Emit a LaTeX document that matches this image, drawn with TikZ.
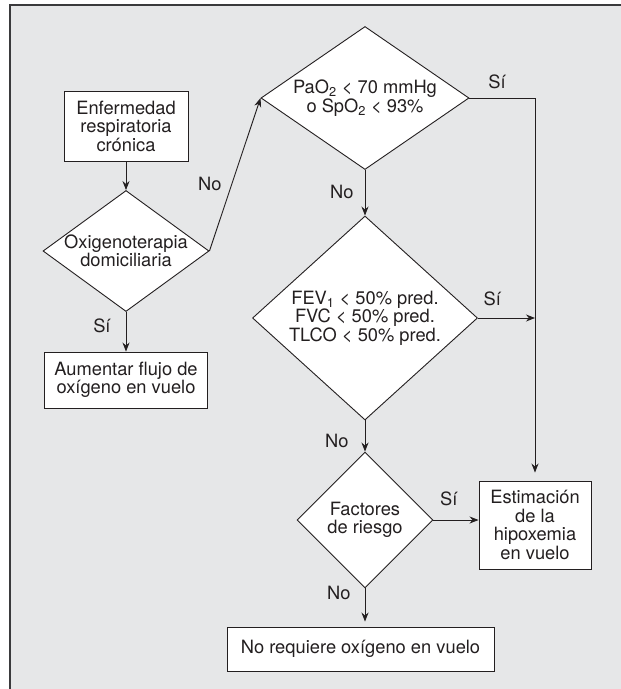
\documentclass[tikz,border=0pt]{standalone}
\usepackage{fontspec}
\setmainfont{TeX Gyre Heros}
\usetikzlibrary{arrows.meta,shapes.geometric}
\definecolor{fondo}{HTML}{E6E7E8}
\definecolor{tinta}{HTML}{231F20}
\definecolor{marco}{HTML}{3A3A3C}

\begin{document}
\begin{tikzpicture}[x=1pt, y=-1pt,
		every node/.style={font=\fontsize{18.3}{18.5}\selectfont, text=tinta},
		caja/.style={draw=tinta, fill=white, line width=0.9pt, align=center, inner sep=0pt},
		decision/.style={diamond, draw=tinta, fill=white, line width=0.9pt, align=center, inner xsep=-6pt, inner ysep=-3pt},
		flecha/.style={draw=tinta, line width=0.9pt, -{Stealth[length=9pt, width=7pt]}},
		etiq/.style={inner sep=1pt}]
		%%%%% START %%%%%
		
		\useasboundingbox (0, 0) rectangle (621, 689);
		\fill[white] (0, 0) rectangle (621, 689);
		\fill[fondo] (10, 5) rectangle (621, 689);
		\draw[marco, line width=1.6pt] (10, 689) -- (10, 5) -- (621, 5);
		
		\node[caja, minimum width=124pt, minimum height=70pt] (enf) at (126, 126) {Enfermedad\\respiratoria\\crónica};
		\node[decision, minimum width=166pt, minimum height=121pt, aspect=1.37] (oxi) at (126, 251) {Oxigenoterapia\\domiciliaria};
		\node[caja, minimum width=163pt, minimum height=56pt] (aum) at (126, 380) {Aumentar flujo de\\oxígeno en vuelo};
		
		\node[decision, minimum width=208pt, minimum height=143pt, aspect=1.45] (pao) at (365, 98) {PaO\textsubscript{2} < 70 mmHg\\o SpO\textsubscript{2} < 93\%};
		\node[decision, minimum width=225pt, minimum height=204pt, aspect=1.1] (fev) at (365, 318) {FEV\textsubscript{1} < 50\% pred.\\FVC < 50\% pred.\\TLCO < 50\% pred.};
		\node[decision, minimum width=136pt, minimum height=136pt, aspect=1] (fac) at (365, 520) {Factores\\de riesgo};
		
		\node[caja, minimum width=112pt, minimum height=88pt] (est) at (535, 525) {Estimación\\de la\\hipoxemia\\en vuelo};
		\node[caja, minimum width=267pt, minimum height=44pt] (noreq) at (360.5, 649) {No requiere oxígeno en vuelo};
		
		\draw[flecha] (enf.south) -- (oxi.north);
		\draw[flecha] (oxi.east) -- node[etiq, pos=0.44, left=9pt] {No} (pao.west);
		\draw[flecha] (oxi.south) -- node[etiq, pos=0.35, left=14pt] {Sí} (aum.north);
		
		\draw[flecha, shorten >=8pt] (pao.east) -| node[etiq, pos=0.21, above=8pt] {Sí} (est.north);
		\draw[flecha] (pao.south) -- node[etiq, pos=0.48, left=10pt] {No} (fev.north);
		
		\coordinate (union) at (fev.east -| est.north);
		\draw[flecha] (fev.east) -- node[etiq, pos=0.25, above=11pt] {Sí} (union);
		\draw[flecha] (fev.south) -- node[etiq, pos=0.66, left=15pt] {No} (fac.north);
		
		\draw[flecha] (fac.east) -- node[etiq, pos=0.34, above=13pt] {Sí} (fac.east -| est.west);
		\draw[flecha, shorten >=5pt] (fac.south) -- node[etiq, pos=0.13, left=13pt] {No} (fac.south |- noreq.north);
		
		%%%%% END %%%%%
	\end{tikzpicture}
\end{document}
